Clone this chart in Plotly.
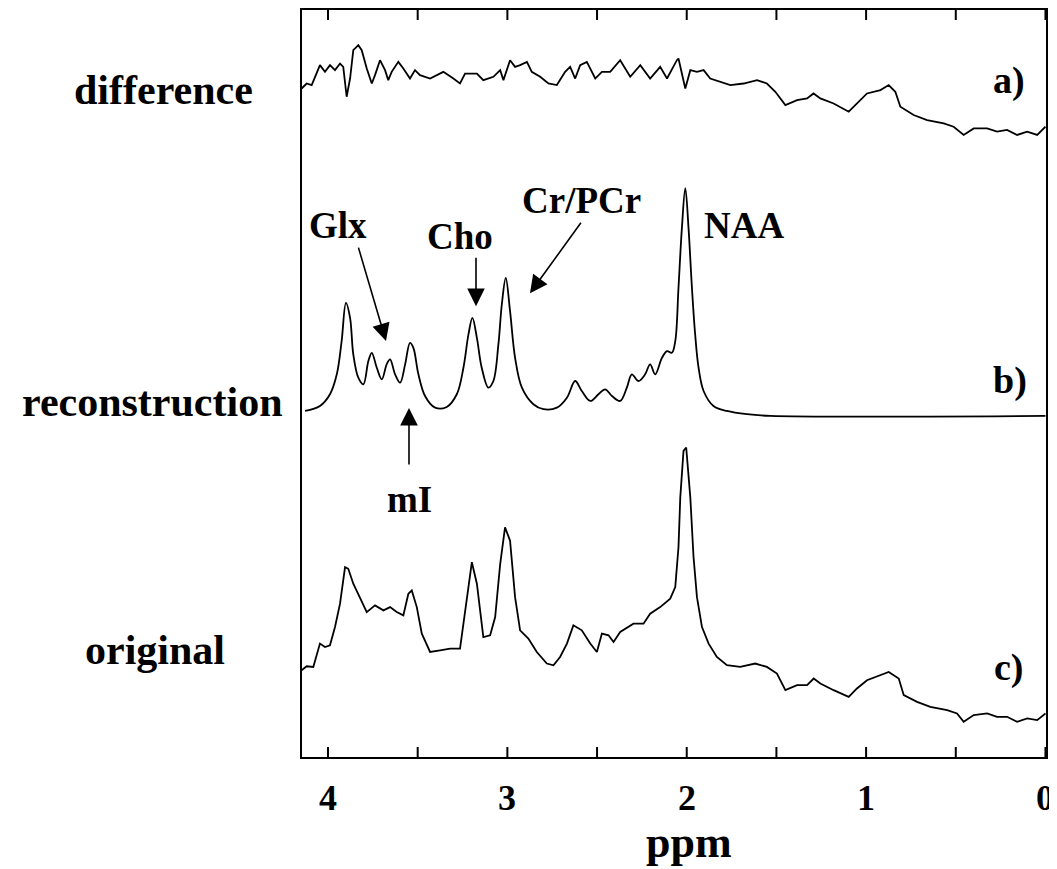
import plotly.graph_objects as go

# ---------------- data (ppm, intensity in a.u.) ----------------
diff_ppm = [4.147, 4.119, 4.091, 4.063, 4.045, 4.017, 3.989, 3.961, 3.933, 3.915, 3.896, 3.877,
            3.859, 3.831, 3.812, 3.784, 3.756, 3.738, 3.710, 3.682, 3.664, 3.645, 3.608, 3.580,
            3.543, 3.515, 3.487, 3.431, 3.357, 3.301, 3.264, 3.236, 3.170, 3.134, 3.078, 3.040,
            3.022, 2.985, 2.957, 2.929, 2.891, 2.864, 2.817, 2.771, 2.724, 2.678, 2.650, 2.622,
            2.594, 2.557, 2.510, 2.473, 2.427, 2.371, 2.315, 2.259, 2.204, 2.148, 2.110, 2.055,
            2.046, 2.008, 1.980, 1.943, 1.906, 1.869, 1.813, 1.757, 1.683, 1.608, 1.553, 1.506,
            1.450, 1.385, 1.329, 1.293, 1.255, 1.181, 1.097, 1.051, 0.995, 0.920, 0.874, 0.837,
            0.809, 0.735, 0.660, 0.567, 0.512, 0.456, 0.400, 0.325, 0.270, 0.214, 0.158, 0.102,
            0.046, 0.0]
diff_val = [8.33, 8.83, 8.67, 9.83, 10.67, 10.0, 10.67, 10.17, 10.83, 10.5, 7.5, 9.33,
            12.17, 12.67, 12.17, 10.33, 8.83, 9.67, 11.17, 10.17, 9.17, 10.0, 11.0, 10.33,
            9.33, 10.17, 9.67, 9.33, 10.0, 9.33, 8.83, 9.83, 9.83, 9.17, 9.5, 10.17,
            9.17, 11.17, 10.5, 10.67, 11.0, 10.0, 9.5, 8.83, 8.67, 10.0, 10.5, 9.33,
            10.67, 11.0, 9.33, 10.0, 10.0, 11.17, 9.5, 10.67, 9.33, 10.5, 9.33, 11.17,
            11.33, 8.33, 10.17, 10.0, 10.17, 9.33, 9.0, 8.67, 8.83, 9.17, 8.83, 8.0,
            6.67, 7.17, 7.33, 7.83, 7.33, 6.83, 6.0, 6.83, 7.83, 8.17, 8.67, 8.0,
            6.5, 5.67, 5.17, 4.83, 4.5, 3.67, 4.33, 4.33, 4.0, 4.17, 3.67, 4.0,
            3.67, 4.5]

recon_ppm = [4.128, 4.045, 3.989, 3.951, 3.924, 3.900, 3.877, 3.859, 3.831, 3.803, 3.775, 3.756,
             3.728, 3.700, 3.673, 3.654, 3.626, 3.598, 3.570, 3.543, 3.524, 3.496, 3.459, 3.403,
             3.338, 3.282, 3.245, 3.217, 3.195, 3.170, 3.143, 3.106, 3.078, 3.050, 3.031, 3.009,
             2.985, 2.957, 2.919, 2.855, 2.799, 2.724, 2.668, 2.622, 2.585, 2.538, 2.492, 2.455,
             2.417, 2.371, 2.334, 2.306, 2.269, 2.232, 2.204, 2.176, 2.138, 2.110, 2.083, 2.064,
             2.046, 2.027, 2.008, 1.990, 1.971, 1.953, 1.934, 1.906, 1.851, 1.776, 1.664, 1.534,
             0.0]
recon_val = [0.5, 1.0, 2.17, 4.17, 7.5, 11.33, 9.83, 6.17, 3.83, 3.17, 5.5, 6.33,
             4.83, 3.67, 5.17, 5.67, 4.17, 3.33, 5.17, 7.33, 6.83, 4.17, 2.0, 0.83,
             0.9, 2.17, 4.83, 8.17, 9.83, 7.83, 4.83, 2.83, 3.5, 7.17, 11.17, 13.83,
             10.5, 5.83, 2.83, 1.17, 0.67, 0.83, 1.83, 3.5, 2.5, 1.5, 2.17, 2.67,
             2.0, 1.5, 2.83, 4.17, 3.5, 4.17, 5.17, 4.17, 5.83, 6.5, 6.33, 7.5,
             12.83, 18.83, 22.83, 18.83, 12.83, 8.17, 4.83, 2.5, 1.0, 0.5, 0.17, 0.0,
             0.0]

orig_ppm = [4.147, 4.119, 4.082, 4.045, 4.017, 3.989, 3.961, 3.933, 3.905, 3.887, 3.859, 3.821,
            3.784, 3.738, 3.691, 3.654, 3.617, 3.580, 3.552, 3.533, 3.505, 3.477, 3.431, 3.375,
            3.319, 3.264, 3.236, 3.198, 3.170, 3.134, 3.096, 3.068, 3.040, 3.013, 2.985, 2.957,
            2.929, 2.883, 2.836, 2.780, 2.743, 2.706, 2.668, 2.632, 2.585, 2.538, 2.501, 2.473,
            2.436, 2.408, 2.371, 2.297, 2.241, 2.204, 2.148, 2.092, 2.064, 2.046, 2.036, 2.018,
            2.003, 1.980, 1.962, 1.943, 1.915, 1.878, 1.832, 1.776, 1.702, 1.618, 1.553, 1.497,
            1.450, 1.385, 1.329, 1.292, 1.255, 1.181, 1.097, 1.051, 0.995, 0.920, 0.874, 0.818,
            0.790, 0.716, 0.642, 0.548, 0.493, 0.456, 0.400, 0.325, 0.270, 0.214, 0.158, 0.102,
            0.046, 0.0]
orig_val = [8.7, 9.1, 9.03, 11.37, 11.03, 11.2, 13.03, 15.37, 19.03, 18.87, 17.37, 15.87,
            14.53, 15.2, 14.7, 15.03, 14.53, 14.2, 16.37, 16.7, 15.03, 12.37, 10.53, 10.7,
            10.87, 10.87, 14.37, 19.53, 17.37, 12.03, 12.2, 14.03, 19.37, 23.03, 21.7, 16.03,
            12.7, 11.87, 10.53, 9.37, 9.2, 10.03, 11.37, 13.2, 12.7, 11.37, 10.53, 12.37,
            12.2, 11.53, 12.53, 13.37, 13.37, 14.37, 15.03, 15.87, 17.03, 21.03, 26.03, 30.7,
            31.03, 26.03, 20.03, 16.03, 13.03, 11.37, 10.03, 9.2, 9.03, 9.37, 9.03, 8.37,
            6.7, 7.2, 7.2, 7.87, 7.37, 6.7, 6.03, 6.87, 7.7, 8.2, 8.53, 7.87,
            6.2, 5.53, 5.03, 4.7, 4.37, 3.53, 4.2, 4.37, 4.03, 4.03, 3.53, 3.87,
            3.7, 4.37]

# vertical stacking offsets of the three spectra
ORIG_OFFSET = 0.0
RECON_OFFSET = 34.2
DIFF_OFFSET = 58.7

tick_vals = [4, 3.5, 3, 2.5, 2, 1.5, 1, 0.5, 0]
label_vals = [4, 3, 2, 1, 0]
label_text = ["4", "3", "2", "1", "0"]

row_labels = ["difference", "reconstruction", "original"]
panel_labels = ["a)", "b)", "c)"]
peak_labels = ["Glx", "Cho", "Cr/PCr", "NAA", "mI"]

# ---------------- layout geometry ----------------
# page body has an 8px margin, so the figure starts at (8, 8) in the window
OFF = 8
W, H = 1057 - OFF, 869 - OFF
L, R, T, B = 302 - OFF, 11, 8 - OFF, 112
PW, PH = W - L - R, H - T - B
TICK_LEN = 10 / PH


def px(xp):
    return (xp - OFF - L) / PW


def py(yp):
    return (H - B - (yp - OFF)) / PH


SERIF = "Times New Roman, Liberation Serif, serif"
line = dict(color="black", width=1.8)

fig = go.Figure()
fig.add_trace(go.Scatter(x=diff_ppm, y=[v + DIFF_OFFSET for v in diff_val],
                         mode="lines", line=line, name="difference"))
fig.add_trace(go.Scatter(x=recon_ppm, y=[v + RECON_OFFSET for v in recon_val],
                         mode="lines", line=line, name="reconstruction", line_shape="spline"))
fig.add_trace(go.Scatter(x=orig_ppm, y=[v + ORIG_OFFSET for v in orig_val],
                         mode="lines", line=line, name="original"))

ann = []
# row labels on the left
for txt, xc, yc in zip(row_labels, [163, 152, 155], [88, 401, 650]):
    ann.append(dict(text="<b>%s</b>" % txt, x=px(xc), y=py(yc), xref="paper", yref="paper",
                    xanchor="center", yanchor="middle", showarrow=False,
                    font=dict(family=SERIF, size=42, color="black")))
# panel letters
for txt, xc, yc in zip(panel_labels, [1009, 1010, 1009], [79, 379, 667]):
    ann.append(dict(text="<b>%s</b>" % txt, x=px(xc), y=py(yc), xref="paper", yref="paper",
                    xanchor="center", yanchor="middle", showarrow=False,
                    font=dict(family=SERIF, size=38, color="black")))
# peak names
for txt, xc, yc in zip(peak_labels, [338, 460, 581, 744, 409], [224, 235, 199, 224, 499]):
    ann.append(dict(text="<b>%s</b>" % txt, x=px(xc), y=py(yc), xref="paper", yref="paper",
                    xanchor="center", yanchor="middle", showarrow=False,
                    font=dict(family=SERIF, size=37, color="black")))
# arrows (tip, tail offset in px)
for (tx, ty), (dx, dy) in [((386, 340), (-28, -95)), ((476, 305), (0, -50)),
                           ((530, 292), (52, -72)), ((409, 407), (0, 58))]:
    ann.append(dict(text="", x=px(tx), y=py(ty), xref="paper", yref="paper",
                    ax=dx, ay=dy, showarrow=True, arrowhead=2, arrowsize=2.2,
                    arrowwidth=1.6, arrowcolor="black"))
# tick labels of the ppm axis (placed under the axis at their ppm values)
for v, t in zip(label_vals, label_text):
    ann.append(dict(text="<b>%s</b>" % t, x=v, y=py(798), xref="x", yref="paper",
                    xanchor="center", yanchor="middle", showarrow=False,
                    font=dict(family=SERIF, size=36, color="black")))
# x-axis title
ann.append(dict(text="<b>ppm</b>", x=px(689), y=py(843), xref="paper", yref="paper",
                xanchor="center", yanchor="middle", showarrow=False,
                font=dict(family=SERIF, size=44, color="black")))

# inside tick marks on the bottom and top frame edges
shapes = []
for v in tick_vals:
    shapes.append(dict(type="line", xref="x", yref="paper", x0=v, x1=v, y0=0, y1=TICK_LEN,
                       line=dict(color="black", width=2)))
    shapes.append(dict(type="line", xref="x", yref="paper", x0=v, x1=v, y0=1, y1=1 - TICK_LEN,
                       line=dict(color="black", width=2)))

fig.update_layout(
    width=W, height=H,
    margin=dict(l=L, r=R, t=T, b=B, pad=0),
    paper_bgcolor="white", plot_bgcolor="white",
    showlegend=False,
    annotations=ann,
    shapes=shapes,
    xaxis=dict(range=[4.145, -0.003], showticklabels=False, ticks="",
               showline=True, linecolor="black", linewidth=2, mirror=True,
               showgrid=False, zeroline=False),
    yaxis=dict(range=[0, PH / 10], showticklabels=False, ticks="",
               showline=True, linecolor="black", linewidth=2, mirror=True,
               showgrid=False, zeroline=False),
)

fig.write_html("out.html")
